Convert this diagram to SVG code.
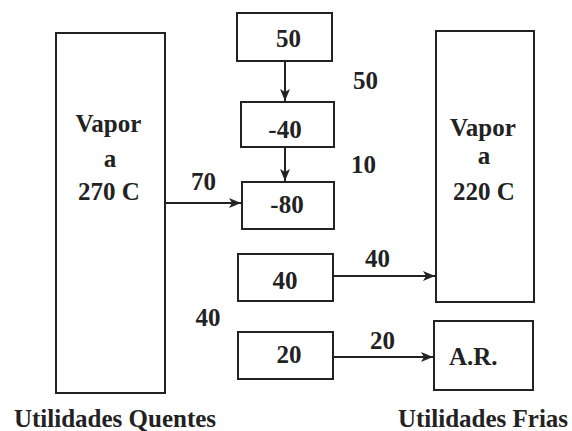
<svg xmlns="http://www.w3.org/2000/svg" width="572" height="431" viewBox="0 0 572 431">
<style>
  rect { fill: #fff; stroke: #222; stroke-width: 2; }
  text { font-family: "Liberation Serif", "Times New Roman", serif; font-weight: bold; font-size: 25px; fill: #222; text-anchor: middle; }
  .conn line { stroke: #222; stroke-width: 2; marker-end: url(#ah); }
</style>
<defs>
  <marker id="ah" viewBox="0 0 12 10" refX="12" refY="5" markerWidth="12" markerHeight="10" markerUnits="userSpaceOnUse" orient="auto">
    <path d="M0,0 L12,5 L0,10 L3,5 Z" fill="#222"/>
  </marker>
</defs>
<rect x="0" y="0" width="572" height="431" style="stroke:none;fill:#fff"/>
<g id="hot">
  <rect x="56" y="33" width="109" height="360"/>
  <text x="108.5" y="132">Vapor</text>
  <text x="110" y="167">a</text>
  <text x="109" y="200">270 C</text>
</g>
<g id="cold">
  <rect x="436" y="31" width="98" height="271"/>
  <text x="483" y="136">Vapor</text>
  <text x="484" y="164">a</text>
  <text x="484" y="200">220 C</text>
</g>
<g id="ar">
  <rect x="434" y="321" width="99" height="69"/>
  <text x="449" y="365" style="text-anchor:start">A.R.</text>
</g>
<g id="n50">
  <rect x="237" y="13" width="95" height="48"/>
  <text x="288.5" y="47">50</text>
</g>
<g id="nm40">
  <rect x="241" y="102" width="93" height="45"/>
  <text x="285" y="138">-40</text>
</g>
<g id="nm80">
  <rect x="242" y="182" width="92" height="47"/>
  <text x="287" y="213">-80</text>
</g>
<g id="n40">
  <rect x="238" y="254" width="95" height="47"/>
  <text x="285" y="289">40</text>
</g>
<g id="n20">
  <rect x="238" y="332" width="95" height="47"/>
  <text x="289" y="363">20</text>
</g>
<g class="conn" id="connectors">
  <line x1="285" y1="61" x2="285" y2="101"/>
  <line x1="285" y1="147" x2="285" y2="181"/>
  <line x1="165" y1="203" x2="241" y2="203"/>
  <line x1="333" y1="276" x2="435" y2="276"/>
  <line x1="333" y1="357" x2="433" y2="357"/>
</g>
<g id="labels">
  <text x="365.5" y="89">50</text>
  <text x="363.5" y="173">10</text>
  <text x="203.5" y="190">70</text>
  <text x="377.5" y="267">40</text>
  <text x="382.5" y="349">20</text>
  <text x="208" y="326">40</text>
  <text x="115" y="427">Utilidades Quentes</text>
  <text x="483" y="427">Utilidades Frias</text>
</g>
</svg>
